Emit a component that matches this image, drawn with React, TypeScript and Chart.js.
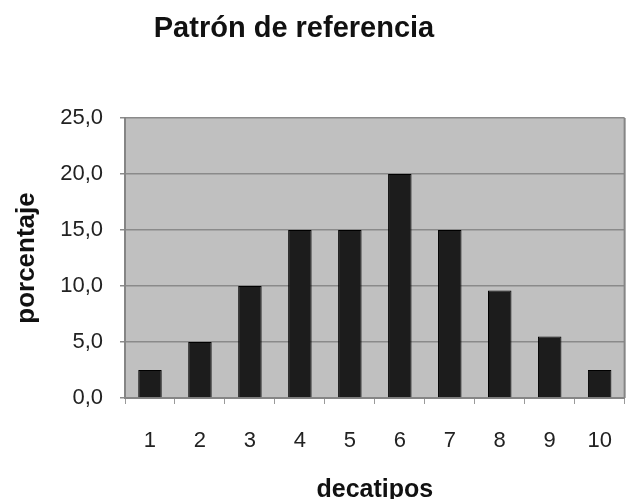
import React, { useEffect, useRef } from "react";
import { Chart, registerables } from "chart.js";

Chart.register(...registerables);

const chartTitle = "Patrón de referencia";
const categories = ["1", "2", "3", "4", "5", "6", "7", "8", "9", "10"];
const percentages = [2.5, 5, 10, 15, 15, 20, 15, 9.6, 5.5, 2.5];
const yTitle = "porcentaje";
const xTitle = "decatipos";

const FONT = "'Liberation Sans', Arial, sans-serif";

export default function App() {
  const ref = useRef<HTMLCanvasElement | null>(null);

  useEffect(() => {
    if (!ref.current) return;
    const decor = {
      id: "decor",
      beforeDraw(chart: any) {
        const { ctx, chartArea: a } = chart;
        ctx.save();
        ctx.fillStyle = "#c0c0c0";
        ctx.fillRect(a.left, a.top, a.right - a.left, a.bottom - a.top);
        ctx.restore();
      },
      afterDraw(chart: any) {
        const { ctx, chartArea: a } = chart;
        ctx.save();
        ctx.strokeStyle = "#858585";
        ctx.lineWidth = 2;
        ctx.beginPath();
        ctx.moveTo(a.right, a.top);
        ctx.lineTo(a.right, a.bottom);
        ctx.stroke();
        ctx.fillStyle = "#111";
        ctx.font = `bold 29px ${FONT}`;
        ctx.textAlign = "center";
        ctx.textBaseline = "alphabetic";
        ctx.fillText(chartTitle, 286, 29);
        ctx.restore();
      },
    };
    const chart = new Chart(ref.current, {
      type: "bar",
      data: {
        labels: categories,
        datasets: [
          {
            data: percentages,
            backgroundColor: "#1c1c1c",
            borderColor: "#000",
            borderWidth: 1,
            barPercentage: 0.47,
            categoryPercentage: 1,
          },
        ],
      },
      options: {
        responsive: false,
        animation: false,
        layout: { padding: { top: 110, right: 2, left: 0, bottom: 0 } },
        plugins: { legend: { display: false }, tooltip: { enabled: false } },
        scales: {
          x: {
            afterFit(scale: any) {
              scale.height = 107;
            },
            grid: {
              drawOnChartArea: false,
              drawTicks: true,
              tickLength: 6,
              color: "#9a9a9a",
              offset: true,
            },
            border: { display: true, color: "#858585", width: 2 },
            ticks: {
              color: "#222",
              font: { family: FONT, size: 22 },
              padding: 24,
              maxRotation: 0,
            },
            title: {
              display: true,
              text: xTitle,
              color: "#111",
              font: { family: FONT, size: 25, weight: "bold" },
              padding: 0,
            },
          },
          y: {
            min: 0,
            max: 25,
            afterFit(scale: any) {
              scale.width = 117;
            },
            grid: {
              color: "#8a8a8a",
              lineWidth: 1.5,
              tickLength: 5,
              drawTicks: true,
            },
            border: { display: true, color: "#858585", width: 2 },
            ticks: {
              stepSize: 5,
              color: "#222",
              font: { family: FONT, size: 22 },
              padding: 17,
              callback: (v: any) => Number(v).toFixed(1).replace(".", ","),
            },
            title: {
              display: true,
              text: yTitle,
              color: "#111",
              font: { family: FONT, size: 26, weight: "bold" },
              padding: { top: 3, bottom: 0 },
            },
          },
        },
      },
      plugins: [decor],
    });
    return () => chart.destroy();
  }, []);

  return (
    <div
      style={{
        position: "fixed",
        left: 0,
        top: 0,
        width: 636,
        height: 499,
        overflow: "hidden",
        background: "#fff",
      }}
    >
      <canvas
        ref={ref}
        width={628}
        height={497}
        style={{ display: "block", position: "absolute", left: 8, top: 8 }}
      />
    </div>
  );
}
